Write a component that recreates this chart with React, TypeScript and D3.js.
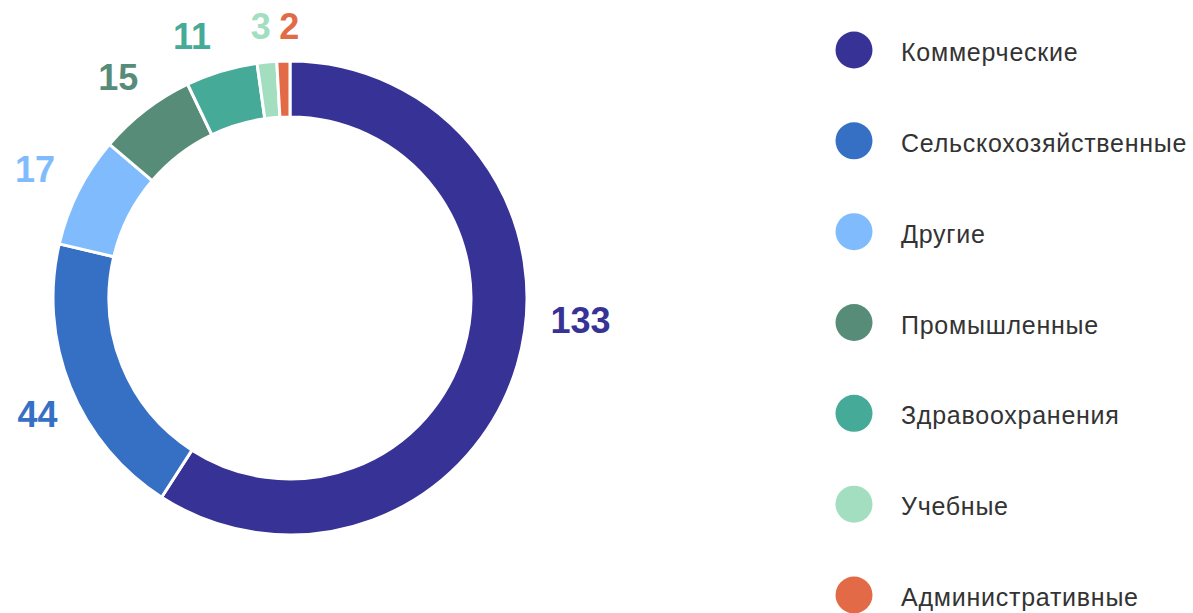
import React, { useEffect, useRef } from "react";
import * as d3 from "d3";

const categories = [
  "Коммерческие",
  "Сельскохозяйственные",
  "Другие",
  "Промышленные",
  "Здравоохранения",
  "Учебные",
  "Административные",
];
const values = [133, 44, 17, 15, 11, 3, 2];
const colors = ["#373296", "#3570c4", "#80bcfd", "#578c79", "#46aa98", "#a3dec0", "#e36a47"];

const App: React.FC = () => {
  const svgRef = useRef<SVGSVGElement>(null);

  useEffect(() => {
    const width = 1193;
    const height = 613;
    const cx = 290;
    const cy = 298;
    const outer = 237;
    const inner = 181;
    const labelRadius = 280;

    const svg = d3.select(svgRef.current);
    svg.selectAll("*").remove();

    const pie = d3.pie<number>().sort(null).value((d) => d);
    const arcs = pie(values);

    const arcGen = d3.arc<d3.PieArcDatum<number>>().innerRadius(inner).outerRadius(outer);

    const g = svg.append("g").attr("transform", `translate(${cx},${cy})`);

    g.selectAll("path")
      .data(arcs)
      .join("path")
      .attr("d", arcGen)
      .attr("fill", (_, i) => colors[i])
      .attr("stroke", "#fff")
      .attr("stroke-width", 3);

    // value labels around the ring; the big slice label sits a bit higher like the original
    const labelNudge = [
      [22, -57],
      [7, 12],
      [-5, -2],
      [-1, 1],
      [-17, 7],
      [-2, 7],
      [7, 8],
    ];
    g.selectAll("text.val")
      .data(arcs)
      .join("text")
      .attr("class", "val")
      .attr("x", (d, i) => {
        const a = (d.startAngle + d.endAngle) / 2;
        return Math.sin(a) * labelRadius + labelNudge[i][0];
      })
      .attr("y", (d, i) => {
        const a = (d.startAngle + d.endAngle) / 2;
        return -Math.cos(a) * labelRadius + labelNudge[i][1];
      })
      .attr("text-anchor", "middle")
      .attr("dominant-baseline", "central")
      .attr("font-family", "'Liberation Sans', Arial, sans-serif")
      .attr("font-weight", "bold")
      .attr("font-size", 36)
      .attr("fill", (_, i) => colors[i])
      .text((d) => d.data);

    // legend
    const legendY = d3.scalePoint<string>().domain(categories).range([50, 595]);
    const legend = svg
      .append("g")
      .selectAll("g")
      .data(categories)
      .join("g")
      .attr("transform", (d) => `translate(854,${legendY(d)})`);

    legend
      .append("circle")
      .attr("r", 18.5)
      .attr("fill", (_, i) => colors[i]);

    legend
      .append("text")
      .attr("x", 47)
      .attr("y", 2)
      .attr("dominant-baseline", "central")
      .attr("font-family", "'Liberation Sans', Arial, sans-serif")
      .attr("font-size", 25)
      .attr("letter-spacing", 0.75)
      .attr("fill", "#333")
      .text((d) => d);

    svg.attr("width", width).attr("height", height);
  }, []);

  return (
    <svg
      ref={svgRef}
      width={1193}
      height={613}
      style={{ position: "absolute", left: 0, top: 0, background: "#fff" }}
    ></svg>
  );
};

export default App;
